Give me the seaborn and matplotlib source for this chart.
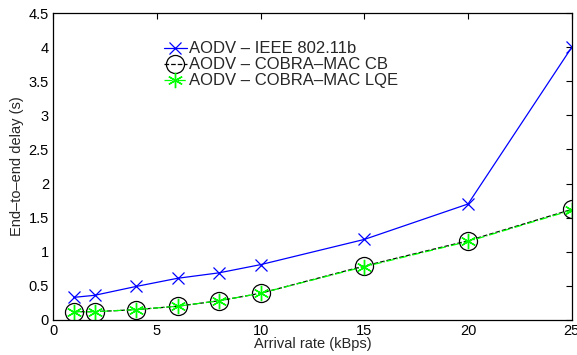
import numpy as np
import pandas as pd
import matplotlib
matplotlib.use('Agg')
import matplotlib.pyplot as plt
import seaborn as sns

# Данные
rate = [1, 2, 4, 6, 8, 10, 15, 20, 25]
ieee = [0.33, 0.36, 0.49, 0.61, 0.69, 0.81, 1.18, 1.70, 4.00]
cb   = [0.12, 0.12, 0.15, 0.20, 0.28, 0.39, 0.79, 1.16, 1.62]
lqe  = [0.12, 0.12, 0.15, 0.20, 0.28, 0.39, 0.78, 1.15, 1.61]
labels = ['AODV \u2013 IEEE 802.11b', 'AODV \u2013 COBRA\u2013MAC CB', 'AODV \u2013 COBRA\u2013MAC LQE']

sns.set_style('white')
plt.rcParams['font.family'] = ['Liberation Sans', 'DejaVu Sans']

fig = plt.figure(figsize=(5.77, 3.55), dpi=100)
ax = fig.add_axes([0.092, 0.099, 0.899, 0.864])

sns.lineplot(x=rate, y=ieee, ax=ax, color='#0000ff', lw=0.9, marker='x', ms=9,
             mew=0.9, mec='#0000ff', label=labels[0])
sns.lineplot(x=rate, y=cb, ax=ax, color='k', lw=0.9, ls='--', marker='o', ms=13,
             mfc='none', mec='k', mew=0.9, label=labels[1])
sns.lineplot(x=rate, y=lqe, ax=ax, color='#00ff00', lw=0.9, ls='-.', marker=(6, 2, 0),
             ms=11, mew=1.0, mec='#00ff00', label=labels[2])

ax.set_xlim(0, 25); ax.set_ylim(0, 4.5)
ax.set_xticks([0, 5, 10, 15, 20, 25])
ax.set_yticks(np.arange(0, 4.51, 0.5))
ax.set_yticklabels(['0', '0.5', '1', '1.5', '2', '2.5', '3', '3.5', '4', '4.5'])
ax.tick_params(direction='in', length=4, width=0.8, top=True, right=True,
               labelsize=10.5, pad=3, colors='k')
for s in ax.spines.values():
    s.set_linewidth(0.9); s.set_color('k')
ax.set_xlabel('Arrival rate (kBps)', fontsize=10.5, labelpad=-1)
ax.set_ylabel('End\u2013to\u2013end delay (s)', fontsize=10.5, labelpad=3)
ax.legend(loc='upper left', bbox_to_anchor=(0.197, 0.935), frameon=False,
          handlelength=1.4, handletextpad=0.1, labelspacing=0.06, borderpad=0,
          fontsize=12)

fig.savefig('out.png', dpi=100)
